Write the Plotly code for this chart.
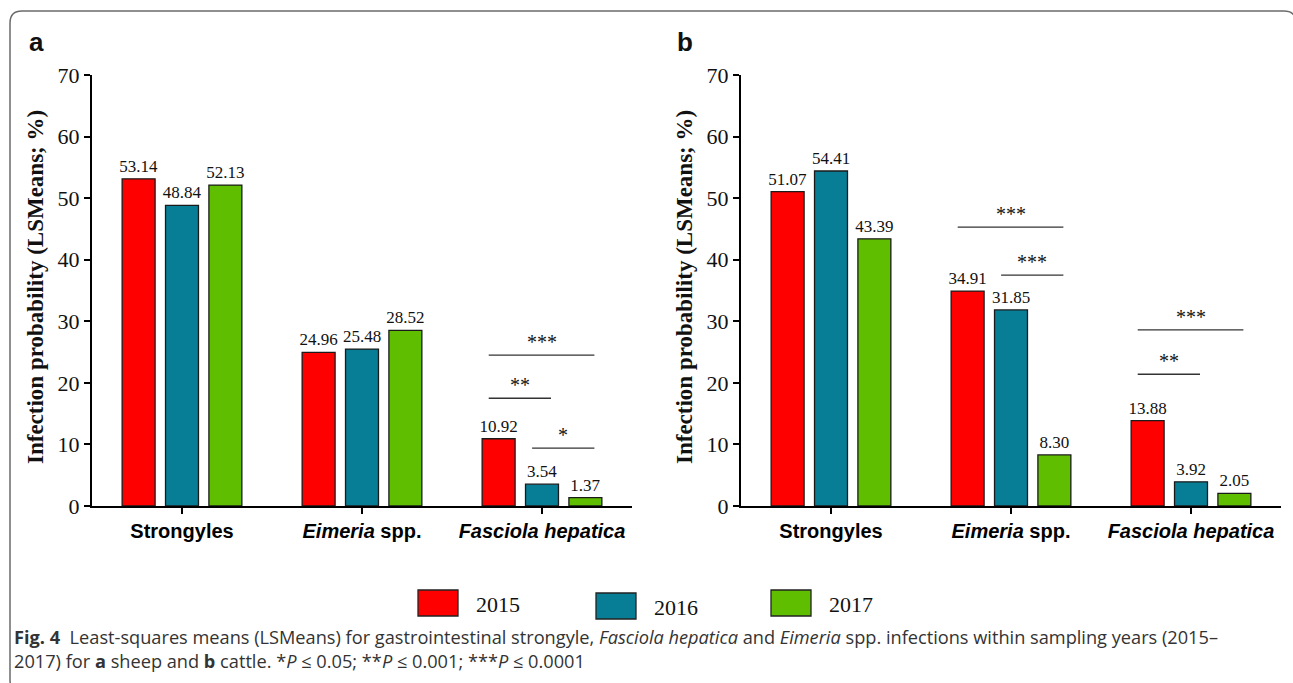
import plotly.graph_objects as go

# ---- data ----
categories = ["Strongyles", "Eimeria spp.", "Fasciola hepatica"]
tick_labels = ["Strongyles", "<i>Eimeria</i> spp.", "<i>Fasciola hepatica</i>"]
years = ["2015", "2016", "2017"]

sheep_2015 = [53.14, 24.96, 10.92]
sheep_2016 = [48.84, 25.48, 3.54]
sheep_2017 = [52.13, 28.52, 1.37]

cattle_2015 = [51.07, 34.91, 13.88]
cattle_2016 = [54.41, 31.85, 3.92]
cattle_2017 = [43.39, 8.30, 2.05]

# pairwise comparisons: (category index, year index a, year index b, bracket level, stars)
sheep_signif = [(2, 0, 2, 24.5, "***"), (2, 0, 1, 17.5, "**"), (2, 1, 2, 9.4, "*")]
cattle_signif = [(1, 0, 2, 45.3, "***"), (1, 1, 2, 37.5, "***"),
                 (2, 0, 2, 28.6, "***"), (2, 0, 1, 21.4, "**")]

y_ticks = [0, 10, 20, 30, 40, 50, 60, 70]

# ---- style ----
W, H = 1293, 683
COLORS = ["#FE0000", "#087E96", "#60BE00"]
SERIF = "Liberation Serif, Times New Roman, serif"
SANS = "Liberation Sans, Arial, sans-serif"
CAPTION_FONT = "Open Sans, Liberation Sans, sans-serif"
BARGAP = 0.277
GROUPGAP = 0.24


def px_x(p):
    return p / W


def px_y(p):
    return 1 - p / H


panels = [
    dict(name="a", vals=[sheep_2015, sheep_2016, sheep_2017], signif=sheep_signif,
         xdom=(92, 632), xa="x", ya="y"),
    dict(name="b", vals=[cattle_2015, cattle_2016, cattle_2017], signif=cattle_signif,
         xdom=(741, 1281), xa="x2", ya="y2"),
]

fig = go.Figure()
shapes = []
annotations = []

slot = (1 - BARGAP) / 3  # width of one year's slot within a category

for p in panels:
    for i, (yr, vals) in enumerate(zip(years, p["vals"])):
        fig.add_trace(go.Bar(
            x=categories, y=vals, name=yr, xaxis=p["xa"], yaxis=p["ya"],
            marker=dict(color=COLORS[i], line=dict(color="#1a1a1a", width=1.3)),
            texttemplate="%{y:.2f}", textposition="outside", constraintext="none",
            textfont=dict(family=SERIF, size=17, color="#111"),
            cliponaxis=False, showlegend=False,
        ))
    xref = p["xa"]
    yref = p["ya"]
    for cat, ya_i, yb_i, level, stars in p["signif"]:
        xa0 = cat + (ya_i - 1) * slot - 0.055
        xb1 = cat + (yb_i - 1) * slot + 0.05
        shapes.append(dict(type="line", xref=xref, yref=yref, x0=xa0, x1=xb1,
                           y0=level, y1=level, line=dict(color="#333", width=1.4)))
        annotations.append(dict(xref=xref, yref=yref, x=(xa0 + xb1) / 2, y=level,
                                text=stars, showarrow=False, yanchor="bottom", yshift=0,
                                font=dict(family=SERIF, size=20, color="#111")))
    # panel letter
    annotations.append(dict(xref="paper", yref="paper",
                            x=px_x(p["xdom"][0] - 56), y=px_y(42),
                            text="<b>%s</b>" % p["name"], showarrow=False,
                            xanchor="center", yanchor="middle",
                            font=dict(family=SANS, size=26, color="#111")))
    # y-axis title
    annotations.append(dict(xref="paper", yref="paper",
                            x=px_x(p["xdom"][0] - 57), y=px_y(287),
                            text="<b>Infection probability (LSMeans; %)</b>",
                            textangle=-90, showarrow=False,
                            xanchor="center", yanchor="middle",
                            font=dict(family=SERIF, size=23, color="#111")))

axis_common = dict(showgrid=False, zeroline=False, showline=True, linecolor="#000",
                   linewidth=2.2, ticks="outside", ticklen=6, tickwidth=2, tickcolor="#000",
                   automargin=False)

layout_axes = {}
for k, p in enumerate(panels):
    sfx = "" if k == 0 else "2"
    layout_axes["xaxis" + sfx] = dict(
        axis_common, domain=[px_x(p["xdom"][0]), px_x(p["xdom"][1])],
        anchor="y" + sfx, type="category", range=[-0.5, 2.5],
        tickvals=categories, ticktext=tick_labels,
        tickfont=dict(family=SANS, size=20, color="#000", weight="bold"),
    )
    layout_axes["yaxis" + sfx] = dict(
        axis_common, domain=[px_y(506), px_y(75)], anchor="x" + sfx,
        range=[0, 70], tickvals=y_ticks,
        tickfont=dict(family=SERIF, size=22, color="#111"),
    )

# legend drawn as boxes + labels
legend_boxes = [(418, 590), (596, 593), (771, 590)]
for (lx, ly), yr, col in zip(legend_boxes, years, COLORS):
    shapes.append(dict(type="rect", xref="paper", yref="paper",
                       x0=px_x(lx), x1=px_x(lx + 40), y0=px_y(ly + 26), y1=px_y(ly),
                       fillcolor=col, line=dict(color="#222", width=1.3)))
    annotations.append(dict(xref="paper", yref="paper", x=px_x(lx + 56), y=px_y(ly + 14),
                            text=yr, showarrow=False, xanchor="left", yanchor="middle",
                            font=dict(family=SERIF, size=22, color="#111")))

# caption
caption_1 = ("<b>Fig. 4</b>  Least-squares means (LSMeans) for gastrointestinal strongyle, "
             "<i>Fasciola hepatica</i> and <i>Eimeria</i> spp. infections within sampling years (2015–")
caption_2 = ("2017) for <b>a</b> sheep and <b>b</b> cattle. *<i>P</i> ≤ 0.05; "
             "**<i>P</i> ≤ 0.001; ***<i>P</i> ≤ 0.0001")
for txt, cy in [(caption_1, 637), (caption_2, 661)]:
    annotations.append(dict(xref="paper", yref="paper", x=px_x(12), y=px_y(cy),
                            text=txt, showarrow=False, xanchor="left", yanchor="middle",
                            font=dict(family=CAPTION_FONT, size=18.2, color="#333")))

# rounded frame around the figure
L, T, R, B, r = 10, 11, 1296, 692, 12
path = (f"M {px_x(L + r)},{px_y(T)} L {px_x(R - r)},{px_y(T)} "
        f"Q {px_x(R)},{px_y(T)} {px_x(R)},{px_y(T + r)} "
        f"L {px_x(R)},{px_y(B - r)} Q {px_x(R)},{px_y(B)} {px_x(R - r)},{px_y(B)} "
        f"L {px_x(L + r)},{px_y(B)} Q {px_x(L)},{px_y(B)} {px_x(L)},{px_y(B - r)} "
        f"L {px_x(L)},{px_y(T + r)} Q {px_x(L)},{px_y(T)} {px_x(L + r)},{px_y(T)} Z")
shapes.append(dict(type="path", xref="paper", yref="paper", path=path,
                   line=dict(color="#6b6b6b", width=1.5), layer="below"))

fig.update_layout(
    width=W, height=H, margin=dict(l=0, r=0, t=0, b=0),
    paper_bgcolor="white", plot_bgcolor="white",
    barmode="group", bargap=BARGAP, bargroupgap=GROUPGAP,
    showlegend=False, shapes=shapes, annotations=annotations,
    **layout_axes,
)

fig.write_html("out.html")
